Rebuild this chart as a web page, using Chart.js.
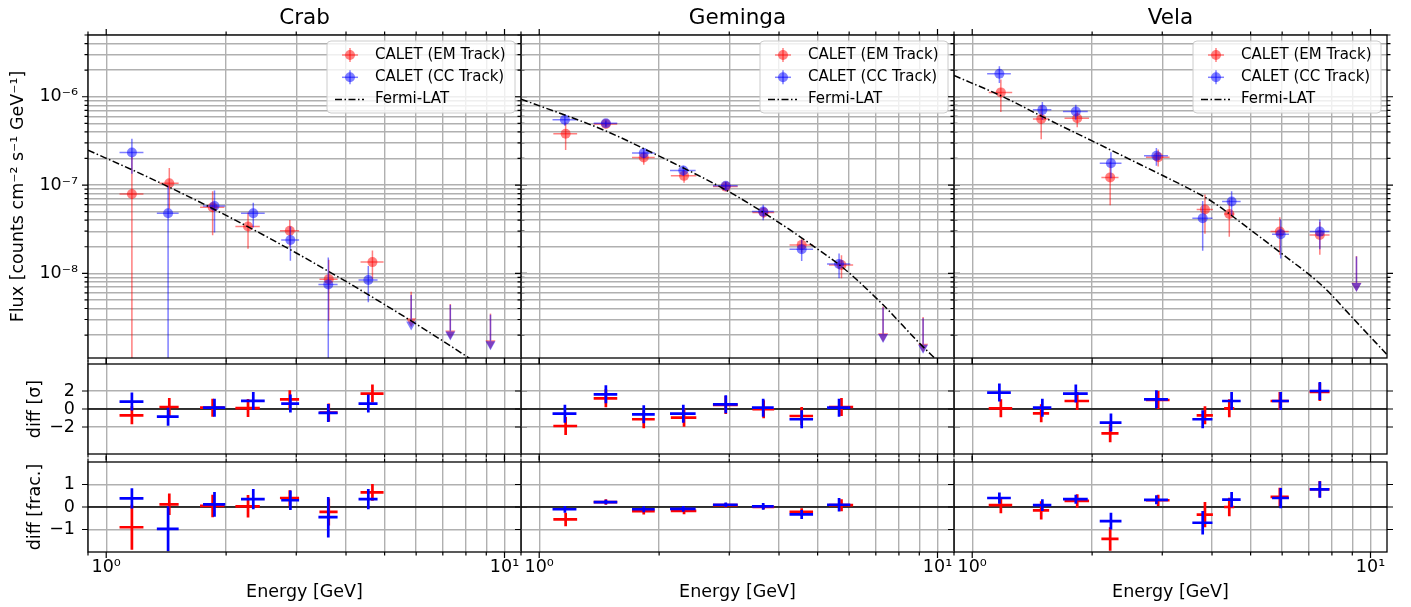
<!DOCTYPE html>
<html>
<head>
<meta charset="utf-8">
<script src="https://cdn.jsdelivr.net/npm/chart.js@4.4.1/dist/chart.umd.min.js"></script>
<style>
  body { margin: 0; background: #fff; }
  #fig { position: relative; width: 1411px; height: 607px; overflow: hidden; background: #fff; }
  #fig canvas { position: absolute; }
</style>
</head>
<body>
<div id="fig"></div>
<script>
// ---- labels / ticks ----
const sources = ['Crab', 'Geminga', 'Vela'];
const legendLabels = ['CALET (EM Track)', 'CALET (CC Track)', 'Fermi-LAT'];
const yTitles = ['Flux [counts cm⁻² s⁻¹ GeV⁻¹]', 'diff [σ]', 'diff [frac.]'];
const energyTicks = [1, 10];
const energyTickLabels = ['10⁰', '10¹'];
const fluxTicks = [1e-8, 1e-7, 1e-6];
const fluxTickLabels = ['10⁻⁸', '10⁻⁷', '10⁻⁶'];
const sigmaTicks = [-2, 0, 2];
const sigmaTickLabels = ['−2', '0', '2'];
const fracTicks = [-1, 0, 1];
const fracTickLabels = ['−1', '0', '1'];
const sigmaErr = 1;

// ---- Crab ----
const crabEmE = [1.16, 1.44, 1.85, 2.27, 2.89, 3.62, 4.66];
const crabEmDE = [0.08, 0.08, 0.13, 0.16, 0.16, 0.19, 0.31];
const crabEmFlux = [7.9e-8, 1.05e-7, 5.6e-8, 3.4e-8, 3.03e-8, 8.6e-9, 1.34e-8];
const crabEmFluxErr = [1.3e-7, 5.1e-8, 2.9e-8, 1.5e-8, 1.0e-8, 5.7e-9, 4.8e-9];
const crabCcE = [1.16, 1.43, 1.87, 2.34, 2.9, 3.61, 4.55];
const crabCcDE = [0.08, 0.09, 0.12, 0.16, 0.15, 0.2, 0.25];
const crabCcFlux = [2.34e-7, 4.8e-8, 5.8e-8, 4.8e-8, 2.39e-8, 7.5e-9, 8.4e-9];
const crabCcFluxErr = [1.0e-7, 5.0e-8, 2.9e-8, 1.5e-8, 1.0e-8, 7.6e-9, 3.7e-9];
const crabUlE = [5.83, 7.31, 9.22];
const crabEmUl = [6.2e-9, 4.5e-9, 3.5e-9];
const crabCcUl = [5.7e-9, 4.4e-9, 3.4e-9];
const crabFermiE = [0.9, 1.2, 1.5, 2, 2.5, 3, 4, 5, 6, 8, 9];
const crabFermiFlux = [2.48e-7, 1.39e-7, 8.65e-8, 4.53e-8, 2.67e-8, 1.7e-8, 8.1e-9, 4.43e-9, 2.67e-9, 1.16e-9, 8.1e-10];
const crabEmSigma = [-0.7, 0.22, 0.15, 0.1, 1.08, -0.4, 1.71];
const crabCcSigma = [0.82, -0.85, 0.15, 0.9, 0.6, -0.44, 0.6];
const crabEmFrac = [-0.9, 0.12, 0.05, 0.03, 0.4, -0.22, 0.65];
const crabEmFracErr = [1.0, 0.48, 0.5, 0.5, 0.35, 0.6, 0.37];
const crabCcFrac = [0.38, -0.97, 0.12, 0.35, 0.3, -0.45, 0.35];
const crabCcFracErr = [0.45, 1.0, 0.55, 0.45, 0.43, 0.9, 0.45];

// ---- Geminga ----
const gemEmE = [1.165, 1.47, 1.83, 2.31, 2.94, 3.66, 4.56, 5.74];
const gemEmDE = [0.08, 0.1, 0.12, 0.17, 0.21, 0.23, 0.31, 0.4];
const gemEmFlux = [3.8e-7, 4.9e-7, 2.05e-7, 1.27e-7, 9.6e-8, 4.9e-8, 2.1e-8, 1.24e-8];
const gemEmFluxErr = [1.3e-7, 4e-8, 3.5e-8, 2.1e-8, 1.1e-8, 7e-9, 3.8e-9, 3.6e-9];
const gemCcE = [1.16, 1.47, 1.83, 2.3, 2.94, 3.65, 4.56, 5.66];
const gemCcDE = [0.08, 0.1, 0.12, 0.17, 0.21, 0.23, 0.31, 0.38];
const gemCcFlux = [5.5e-7, 5.0e-7, 2.3e-7, 1.46e-7, 9.8e-8, 5.0e-8, 1.88e-8, 1.28e-8];
const gemCcFluxErr = [8e-8, 4e-8, 3e-8, 1.9e-8, 1.1e-8, 1.0e-8, 5e-9, 4e-9];
const gemUlE = [7.3, 9.2];
const gemEmUl = [4.2e-9, 3.2e-9];
const gemCcUl = [4.1e-9, 3.1e-9];
const gemFermiE = [0.9, 1.45, 1.93, 2.94, 3.79, 4.97, 5.8, 7.3, 9.03, 9.94];
const gemFermiFlux = [9.4e-7, 4.2e-7, 2.3e-7, 8.8e-8, 4.4e-8, 1.92e-8, 1.15e-8, 4.4e-9, 1.6e-9, 1.05e-9];
const gemEmSigma = [-1.89, 1.19, -1.14, -0.96, 0.45, -0.03, -0.78, 0.22];
const gemCcSigma = [-0.52, 1.63, -0.59, -0.52, 0.52, 0.15, -1.14, 0.15];
const gemEmFrac = [-0.55, 0.22, -0.18, -0.17, 0.08, 0.0, -0.22, 0.08];
const gemEmFracErr = [0.3, 0.12, 0.15, 0.15, 0.1, 0.1, 0.17, 0.27];
const gemCcFrac = [-0.1, 0.22, -0.1, -0.08, 0.1, 0.03, -0.33, 0.1];
const gemCcFracErr = [0.15, 0.1, 0.13, 0.13, 0.1, 0.15, 0.2, 0.3];

// ---- Vela ----
const velaEmE = [1.18, 1.49, 1.835, 2.22, 2.93, 3.84, 4.42, 5.92, 7.46];
const velaEmDE = [0.08, 0.07, 0.13, 0.11, 0.2, 0.18, 0.13, 0.31, 0.43];
const velaEmFlux = [1.12e-6, 5.6e-7, 5.7e-7, 1.22e-7, 2.07e-7, 5.3e-8, 4.7e-8, 2.97e-8, 2.72e-8];
const velaEmFluxErr = [4.5e-7, 2.3e-7, 1.2e-7, 6.3e-8, 4.5e-8, 2.5e-8, 2.1e-8, 1.35e-8, 1.1e-8];
const velaCcE = [1.17, 1.5, 1.82, 2.23, 2.9, 3.79, 4.48, 5.95, 7.46];
const velaCcDE = [0.08, 0.08, 0.13, 0.14, 0.2, 0.22, 0.24, 0.29, 0.42];
const velaCcFlux = [1.82e-6, 7.1e-7, 6.8e-7, 1.77e-7, 2.14e-7, 4.2e-8, 6.5e-8, 2.77e-8, 2.97e-8];
const velaCcFluxErr = [3.9e-7, 1.6e-7, 1.3e-7, 5.8e-8, 4.9e-8, 2.4e-8, 2.0e-8, 1.3e-8, 1.1e-8];
const velaUlE = [9.22];
const velaEmUl = [1.57e-8];
const velaCcUl = [1.55e-8];
const velaFermiE = [0.9, 1.2, 1.5, 2, 2.5, 3, 3.5, 4, 5, 6, 7.6, 9, 11];
const velaFermiFlux = [1.74e-6, 9.9e-7, 5.95e-7, 3.16e-7, 1.93e-7, 1.29e-7, 9.1e-8, 6.5e-8, 3.1e-8, 1.66e-8, 7.1e-9, 3.16e-9, 1.2e-9];
const velaEmSigma = [0.08, -0.48, 0.89, -2.7, 1.0, -0.7, 0.08, 0.89, 1.89];
const velaCcSigma = [1.82, 0.15, 1.71, -1.51, 1.08, -1.14, 0.89, 0.89, 2.0];
const velaEmFrac = [0.08, -0.15, 0.27, -1.42, 0.3, -0.34, 0.0, 0.45, 0.79];
const velaEmFracErr = [0.36, 0.41, 0.3, 0.52, 0.25, 0.56, 0.41, 0.41, 0.37];
const velaCcFrac = [0.4, 0.08, 0.35, -0.63, 0.32, -0.7, 0.33, 0.4, 0.78];
const velaCcFracErr = [0.25, 0.26, 0.2, 0.37, 0.2, 0.52, 0.34, 0.45, 0.37];

// per-panel bundles built from the arrays above
const panels = [
  { em: {e: crabEmE, de: crabEmDE, f: crabEmFlux, fe: crabEmFluxErr, s: crabEmSigma, fr: crabEmFrac, fre: crabEmFracErr, ul: crabEmUl},
    cc: {e: crabCcE, de: crabCcDE, f: crabCcFlux, fe: crabCcFluxErr, s: crabCcSigma, fr: crabCcFrac, fre: crabCcFracErr, ul: crabCcUl},
    ulE: crabUlE, fermiE: crabFermiE, fermiF: crabFermiFlux },
  { em: {e: gemEmE, de: gemEmDE, f: gemEmFlux, fe: gemEmFluxErr, s: gemEmSigma, fr: gemEmFrac, fre: gemEmFracErr, ul: gemEmUl},
    cc: {e: gemCcE, de: gemCcDE, f: gemCcFlux, fe: gemCcFluxErr, s: gemCcSigma, fr: gemCcFrac, fre: gemCcFracErr, ul: gemCcUl},
    ulE: gemUlE, fermiE: gemFermiE, fermiF: gemFermiFlux },
  { em: {e: velaEmE, de: velaEmDE, f: velaEmFlux, fe: velaEmFluxErr, s: velaEmSigma, fr: velaEmFrac, fre: velaEmFracErr, ul: velaEmUl},
    cc: {e: velaCcE, de: velaCcDE, f: velaCcFlux, fe: velaCcFluxErr, s: velaCcSigma, fr: velaCcFrac, fre: velaCcFracErr, ul: velaCcUl},
    ulE: velaUlE, fermiE: velaFermiE, fermiF: velaFermiFlux }
];

// ---- layout / style ----
const COL_X = [88, 521, 954], PLOT_W = 433;
const ROW_Y = [35, 364, 462], ROW_H = [323, 90, 90];
const GRID = '#b0b0b0';
const EM_A = 'rgba(255,0,0,0.5)', CC_A = 'rgba(0,0,255,0.5)';
const UL_ARROW = 0.5;
const FONT = '"DejaVu Sans", sans-serif';

Chart.defaults.font.family = FONT;
Chart.defaults.color = '#000';

function pts(xs, ys) { return xs.map((v, i) => ({x: v, y: ys[i]})); }

function logTicks(lo, hi) {
  const out = [];
  for (let d = Math.floor(Math.log10(lo)); d <= Math.ceil(Math.log10(hi)); d++) {
    for (let k = 1; k <= 9; k++) {
      const v = parseFloat(k + 'e' + d);
      if (v >= lo * 0.9999 && v <= hi * 1.0001) out.push({value: v, big: k === 1});
    }
  }
  return out;
}
function labelFor(vals, labels) {
  return v => {
    const i = vals.findIndex(t => Math.abs(t - v) <= Math.abs(t) * 1e-6 + 1e-12);
    return i < 0 ? '' : labels[i];
  };
}

// error bars + upper-limit arrows, drawn just before each dataset
const errorBars = {
  id: 'errorBars',
  beforeDatasetDraw(chart, args) {
    const ds = chart.data.datasets[args.index];
    if (!ds.err && !ds.ulColor) return;
    const {ctx, chartArea: a, scales: {x, y}} = chart;
    ctx.save();
    ctx.beginPath(); ctx.rect(a.left, a.top, a.width, a.height); ctx.clip();
    if (ds.err) {
      const e = ds.err;
      ctx.strokeStyle = e.color; ctx.lineWidth = e.width;
      ctx.beginPath();
      ds.data.forEach((p, i) => {
        const py = y.getPixelForValue(p.y);
        ctx.moveTo(x.getPixelForValue(p.x - e.dx[i]), py);
        ctx.lineTo(x.getPixelForValue(p.x + e.dx[i]), py);
      });
      ctx.stroke();
      ctx.beginPath();
      ds.data.forEach((p, i) => {
        const px = x.getPixelForValue(p.x);
        const dy = Array.isArray(e.dy) ? e.dy[i] : e.dy;
        const lo = p.y - dy;
        const pLo = (y.type === 'logarithmic' && lo <= 0) ? a.bottom + 5 : y.getPixelForValue(lo);
        ctx.moveTo(px, y.getPixelForValue(p.y + dy));
        ctx.lineTo(px, pLo);
      });
      ctx.stroke();
    }
    if (ds.ulColor) {
      ctx.strokeStyle = ds.ulColor; ctx.fillStyle = ds.ulColor; ctx.lineWidth = 1.5;
      ds.data.forEach(p => {
        const px = x.getPixelForValue(p.x);
        const top = y.getPixelForValue(p.y), end = y.getPixelForValue(p.y * UL_ARROW);
        ctx.beginPath(); ctx.moveTo(px, top); ctx.lineTo(px, end); ctx.stroke();
        ctx.beginPath(); ctx.moveTo(px - 5, end); ctx.lineTo(px + 5, end); ctx.lineTo(px, end + 9); ctx.closePath(); ctx.fill();
      });
    }
    ctx.restore();
  }
};

const zeroLine = {
  id: 'zeroLine',
  beforeDatasetsDraw(chart, args, o) {
    if (!o.show) return;
    const {ctx, chartArea: a, scales: {y}} = chart;
    const py = y.getPixelForValue(0);
    ctx.save(); ctx.strokeStyle = '#000'; ctx.lineWidth = 1.5;
    ctx.beginPath(); ctx.moveTo(a.left, py); ctx.lineTo(a.right, py); ctx.stroke();
    ctx.restore();
  }
};

// spines and outward ticks on all four sides
const frame = {
  id: 'frame',
  afterDraw(chart) {
    const {ctx, chartArea: a, scales: {x, y}} = chart;
    ctx.save();
    ctx.strokeStyle = '#000'; ctx.lineWidth = 1.2;
    ctx.beginPath();
    x.ticks.forEach(t => {
      const px = x.getPixelForValue(t.value), L = t.big !== false ? 6 : 3.5;
      ctx.moveTo(px, a.bottom); ctx.lineTo(px, a.bottom + L);
      ctx.moveTo(px, a.top); ctx.lineTo(px, a.top - L);
    });
    y.ticks.forEach(t => {
      const py = y.getPixelForValue(t.value), L = t.big !== false ? 6 : 3.5;
      ctx.moveTo(a.left, py); ctx.lineTo(a.left - L, py);
      ctx.moveTo(a.right, py); ctx.lineTo(a.right + L, py);
    });
    ctx.stroke();
    ctx.lineWidth = 1.3;
    ctx.strokeRect(a.left, a.top, a.width, a.height);
    ctx.restore();
  }
};

const legendBox = {
  id: 'legendBox',
  afterDraw(chart, args, o) {
    if (!o.show) return;
    const {ctx, chartArea: a} = chart;
    const w = 188, h = 72, x0 = a.right - 6 - w, y0 = a.top + 6, r = 4;
    ctx.save();
    ctx.beginPath();
    ctx.moveTo(x0 + r, y0); ctx.lineTo(x0 + w - r, y0); ctx.arcTo(x0 + w, y0, x0 + w, y0 + r, r);
    ctx.lineTo(x0 + w, y0 + h - r); ctx.arcTo(x0 + w, y0 + h, x0 + w - r, y0 + h, r);
    ctx.lineTo(x0 + r, y0 + h); ctx.arcTo(x0, y0 + h, x0, y0 + h - r, r);
    ctx.lineTo(x0, y0 + r); ctx.arcTo(x0, y0, x0 + r, y0, r); ctx.closePath();
    ctx.fillStyle = 'rgba(255,255,255,0.8)'; ctx.fill();
    ctx.strokeStyle = '#cccccc'; ctx.lineWidth = 1; ctx.stroke();
    const ds = chart.data.datasets;
    const entries = [ds[4], ds[3], ds[0]];
    entries.forEach((d, i) => {
      const cy = y0 + 14 + i * 22.3, cx = x0 + 23;
      if (d.err) {
        ctx.strokeStyle = d.err.color; ctx.lineWidth = 1.5;
        ctx.beginPath(); ctx.moveTo(cx - 8, cy); ctx.lineTo(cx + 8, cy); ctx.stroke();
        ctx.beginPath(); ctx.moveTo(cx, cy - 7); ctx.lineTo(cx, cy + 7); ctx.stroke();
        ctx.fillStyle = d.backgroundColor;
        ctx.beginPath(); ctx.arc(cx, cy, 5, 0, 2 * Math.PI); ctx.fill();
      } else {
        ctx.strokeStyle = d.borderColor; ctx.lineWidth = d.borderWidth; ctx.setLineDash(d.borderDash);
        ctx.beginPath(); ctx.moveTo(x0 + 8, cy); ctx.lineTo(x0 + 37, cy); ctx.stroke();
        ctx.setLineDash([]);
      }
      ctx.fillStyle = '#000'; ctx.font = '15px ' + FONT; ctx.textBaseline = 'middle'; ctx.textAlign = 'left';
      ctx.fillText(d.label, x0 + 48, cy);
    });
    ctx.restore();
  }
};

function topDatasets(p) {
  return [
    { label: legendLabels[2], data: pts(p.fermiE, p.fermiF), showLine: true, borderColor: '#000', borderWidth: 1.5,
      borderDash: [7, 2.5, 1.5, 2.5], pointRadius: 0, cubicInterpolationMode: 'monotone' },
    { label: 'cc-ul', data: pts(p.ulE, p.cc.ul), pointRadius: 0, ulColor: CC_A },
    { label: 'em-ul', data: pts(p.ulE, p.em.ul), pointRadius: 0, ulColor: EM_A },
    { label: legendLabels[1], data: pts(p.cc.e, p.cc.f), pointRadius: 5, backgroundColor: CC_A, borderWidth: 0,
      err: {dx: p.cc.de, dy: p.cc.fe, color: CC_A, width: 1.5} },
    { label: legendLabels[0], data: pts(p.em.e, p.em.f), pointRadius: 5, backgroundColor: EM_A, borderWidth: 0,
      err: {dx: p.em.de, dy: p.em.fe, color: EM_A, width: 1.5} }
  ];
}
function diffDatasets(p, which) {
  const em = which === 'sigma' ? p.em.s : p.em.fr, cc = which === 'sigma' ? p.cc.s : p.cc.fr;
  const eme = which === 'sigma' ? sigmaErr : p.em.fre, cce = which === 'sigma' ? sigmaErr : p.cc.fre;
  return [
    { label: legendLabels[1], data: pts(p.cc.e, cc), pointRadius: 0, err: {dx: p.cc.de, dy: cce, color: '#0000ff', width: 2.7} },
    { label: legendLabels[0], data: pts(p.em.e, em), pointRadius: 0, err: {dx: p.em.de, dy: eme, color: '#ff0000', width: 2.7} }
  ];
}

const fig = document.getElementById('fig');
const yRange = [[1.1e-9, 5e-6], [-5, 5], [-2, 2]];

for (let r = 0; r < 3; r++) {
  for (let c = 0; c < 3; c++) {
    const ml = c === 0 ? 88 : 10, mr = 10;
    const mt = r === 0 ? 35 : 10, mb = r === 2 ? 55 : 10;
    const cv = document.createElement('canvas');
    cv.width = ml + PLOT_W + mr; cv.height = mt + ROW_H[r] + mb;
    cv.style.left = (COL_X[c] - ml) + 'px'; cv.style.top = (ROW_Y[r] - mt) + 'px';
    cv.style.width = cv.width + 'px'; cv.style.height = cv.height + 'px';
    fig.appendChild(cv);

    const p = panels[c];
    const yTickVals = r === 0 ? fluxTicks : r === 1 ? sigmaTicks : fracTicks;
    const yTickLabs = r === 0 ? fluxTickLabels : r === 1 ? sigmaTickLabels : fracTickLabels;

    new Chart(cv, {
      type: 'scatter',
      data: { datasets: r === 0 ? topDatasets(p) : diffDatasets(p, r === 1 ? 'sigma' : 'frac') },
      options: {
        responsive: false, animation: false, events: [],
        layout: { padding: { left: 0, right: mr, top: r === 0 ? 0 : mt, bottom: 0 } },
        plugins: {
          legend: { display: false }, tooltip: { enabled: false },
          title: { display: r === 0, text: sources[c], fullSize: false, color: '#000',
                   font: { size: 21.5, weight: 'normal', lineHeight: '25px' }, padding: { top: 6, bottom: 4 } },
          zeroLine: { show: r > 0 },
          legendBox: { show: r === 0 }
        },
        scales: {
          x: {
            type: 'logarithmic', min: 0.9, max: 11,
            afterBuildTicks: s => { s.ticks = logTicks(0.9, 11); },
            afterFit: s => { s.height = mb; s.paddingLeft = 0; s.paddingRight = 0; },
            grid: { color: GRID, lineWidth: 1.4, drawTicks: false },
            border: { display: false },
            ticks: { display: r === 2, autoSkip: false, maxRotation: 0, minRotation: 0, padding: 5,
                     font: { size: 17.5 }, color: '#000', callback: labelFor(energyTicks, energyTickLabels) },
            title: { display: r === 2, text: 'Energy [GeV]', color: '#000', font: { size: 17.5 }, padding: { top: 0, bottom: 4.5 } }
          },
          y: {
            type: r === 0 ? 'logarithmic' : 'linear', min: yRange[r][0], max: yRange[r][1],
            afterBuildTicks: s => {
              s.ticks = r === 0 ? logTicks(yRange[0][0], yRange[0][1]) : yTickVals.map(v => ({value: v, big: true}));
            },
            afterFit: s => { s.width = ml; s.paddingTop = 0; s.paddingBottom = 0; },
            grid: { color: GRID, lineWidth: 1.4, drawTicks: false },
            border: { display: false },
            ticks: { display: c === 0, autoSkip: false, padding: r === 0 ? 10 : 13,
                     font: { size: 17.5 }, color: '#000', callback: labelFor(yTickVals, yTickLabs) },
            title: { display: c === 0, text: yTitles[r], color: '#000', font: { size: 17.5 },
                     padding: { top: r === 0 ? 7.5 : 24.5, bottom: 0 } }
          }
        }
      },
      plugins: [errorBars, zeroLine, frame, legendBox]
    });
  }
}
</script>
</body>
</html>
